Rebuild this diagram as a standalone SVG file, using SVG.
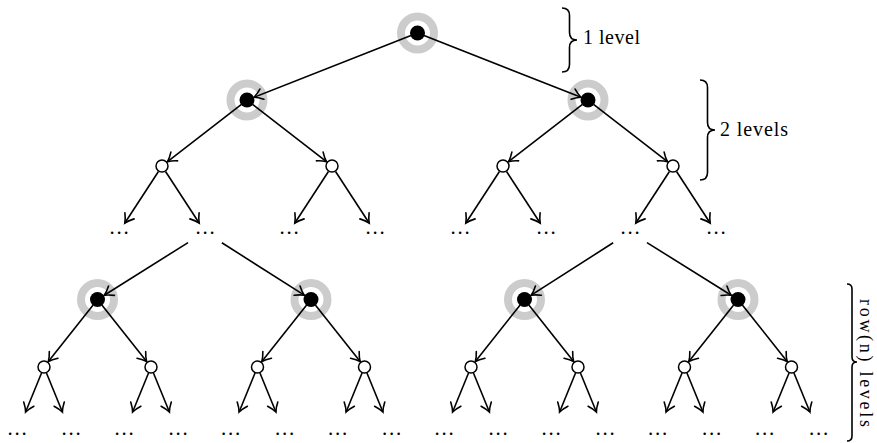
<svg xmlns="http://www.w3.org/2000/svg" width="877" height="443" viewBox="0 0 877 443">
<style>
.ring{fill:none;stroke:#cccccc;stroke-width:8}
.blk{fill:#000}
.wht{fill:#fff;stroke:#000;stroke-width:1.5}
.edge{stroke:#000;stroke-width:1.6;fill:none;marker-end:url(#arr)}
.dots{font-family:"Liberation Serif",serif;font-size:21px;text-anchor:middle;letter-spacing:1.8px;fill:#000}
.lbl{font-family:"Liberation Serif",serif;font-size:20px;fill:#000}
.brace{fill:none;stroke:#000;stroke-width:1.6}
</style>
<defs>
<marker id="arr" viewBox="-12 -12 24 24" markerWidth="24" markerHeight="24" refX="0" refY="0" orient="auto" markerUnits="userSpaceOnUse">
<path d="M-8.5,-5.5 C-5.5,-3 -2.2,-0.9 0,0 C-2.2,0.9 -5.5,3 -8.5,5.5" fill="none" stroke="#000" stroke-width="1.6" stroke-linecap="round"/>
</marker>
</defs>
<g id="rings">
<circle class="ring" cx="417.5" cy="33" r="16.5"/>
<circle class="ring" cx="247" cy="100" r="16.5"/>
<circle class="ring" cx="588" cy="100" r="16.5"/>
<circle class="ring" cx="97.5" cy="299.5" r="16.5"/>
<circle class="ring" cx="311" cy="299.5" r="16.5"/>
<circle class="ring" cx="524.5" cy="299.5" r="16.5"/>
<circle class="ring" cx="738" cy="299.5" r="16.5"/>
</g>
<g id="connectors">
<path class="edge" d="M410.98,35.56 L253.98,97.26"/>
<path class="edge" d="M424.02,35.56 L581.02,97.26"/>
<path class="edge" d="M241.47,104.29 L167.53,161.71"/>
<path class="edge" d="M252.53,104.29 L326.47,161.71"/>
<path class="edge" d="M582.47,104.29 L508.53,161.71"/>
<path class="edge" d="M593.53,104.29 L667.47,161.71"/>
<path class="edge" d="M158.45,171.45 L124.86,223"/>
<path class="edge" d="M165.55,171.45 L199.14,223"/>
<path class="edge" d="M328.45,171.45 L294.86,223"/>
<path class="edge" d="M335.55,171.45 L369.14,223"/>
<path class="edge" d="M499.45,171.45 L465.86,223"/>
<path class="edge" d="M506.55,171.45 L540.14,223"/>
<path class="edge" d="M669.45,171.45 L635.86,223"/>
<path class="edge" d="M676.55,171.45 L710.14,223"/>
<path class="edge" d="M188.04,242.6 L104.28,295.26"/>
<path class="edge" d="M221.87,242.74 L304.25,295.2"/>
<path class="edge" d="M613.15,242.78 L531.24,295.19"/>
<path class="edge" d="M646.96,242.6 L731.22,295.26"/>
<path class="edge" d="M93.15,305 L48.35,361.51"/>
<path class="edge" d="M101.85,305 L146.65,361.51"/>
<path class="edge" d="M306.65,305 L261.85,361.51"/>
<path class="edge" d="M315.35,305 L360.15,361.51"/>
<path class="edge" d="M520.15,305 L475.35,361.51"/>
<path class="edge" d="M528.85,305 L573.65,361.51"/>
<path class="edge" d="M733.65,305 L688.85,361.51"/>
<path class="edge" d="M742.35,305 L787.15,361.51"/>
<path class="edge" d="M41.54,373.02 L25.59,412"/>
<path class="edge" d="M46.46,373.02 L62.41,412"/>
<path class="edge" d="M148.54,373.02 L132.59,412"/>
<path class="edge" d="M153.46,373.02 L169.41,412"/>
<path class="edge" d="M255.04,373.02 L239.09,412"/>
<path class="edge" d="M259.96,373.02 L275.91,412"/>
<path class="edge" d="M362.04,373.02 L346.09,412"/>
<path class="edge" d="M366.96,373.02 L382.91,412"/>
<path class="edge" d="M468.54,373.02 L452.59,412"/>
<path class="edge" d="M473.46,373.02 L489.41,412"/>
<path class="edge" d="M575.54,373.02 L559.59,412"/>
<path class="edge" d="M580.46,373.02 L596.41,412"/>
<path class="edge" d="M682.04,373.02 L666.09,412"/>
<path class="edge" d="M686.96,373.02 L702.91,412"/>
<path class="edge" d="M789.04,373.02 L773.09,412"/>
<path class="edge" d="M793.96,373.02 L809.91,412"/>
</g>
<g id="n0"><circle class="blk" cx="417.5" cy="33" r="7.5"/></g>
<g id="n1a"><circle class="blk" cx="247" cy="100" r="7.5"/></g>
<g id="n1b"><circle class="blk" cx="588" cy="100" r="7.5"/></g>
<g id="n2a"><circle class="wht" cx="162" cy="166" r="6"/></g>
<g id="n2b"><circle class="wht" cx="332" cy="166" r="6"/></g>
<g id="n2c"><circle class="wht" cx="503" cy="166" r="6"/></g>
<g id="n2d"><circle class="wht" cx="673" cy="166" r="6"/></g>
<g id="d3">
<text class="dots" x="120" y="234">...</text>
<text class="dots" x="206" y="234">...</text>
<text class="dots" x="290" y="234">...</text>
<text class="dots" x="376" y="234">...</text>
<text class="dots" x="461" y="234">...</text>
<text class="dots" x="547" y="234">...</text>
<text class="dots" x="631" y="234">...</text>
<text class="dots" x="717" y="234">...</text>
</g>
<g id="n4a"><circle class="blk" cx="97.5" cy="299.5" r="7.5"/></g>
<g id="n4b"><circle class="blk" cx="311" cy="299.5" r="7.5"/></g>
<g id="n4c"><circle class="blk" cx="524.5" cy="299.5" r="7.5"/></g>
<g id="n4d"><circle class="blk" cx="738" cy="299.5" r="7.5"/></g>
<g id="n5a"><circle class="wht" cx="44" cy="367" r="6"/></g>
<g id="n5b"><circle class="wht" cx="151" cy="367" r="6"/></g>
<g id="n5c"><circle class="wht" cx="257.5" cy="367" r="6"/></g>
<g id="n5d"><circle class="wht" cx="364.5" cy="367" r="6"/></g>
<g id="n5e"><circle class="wht" cx="471" cy="367" r="6"/></g>
<g id="n5f"><circle class="wht" cx="578" cy="367" r="6"/></g>
<g id="n5g"><circle class="wht" cx="684.5" cy="367" r="6"/></g>
<g id="n5h"><circle class="wht" cx="791.5" cy="367" r="6"/></g>
<g id="d6">
<text class="dots" x="18" y="435">...</text>
<text class="dots" x="72" y="435">...</text>
<text class="dots" x="125" y="435">...</text>
<text class="dots" x="179" y="435">...</text>
<text class="dots" x="231.5" y="435">...</text>
<text class="dots" x="285.5" y="435">...</text>
<text class="dots" x="338.5" y="435">...</text>
<text class="dots" x="392.5" y="435">...</text>
<text class="dots" x="445" y="435">...</text>
<text class="dots" x="499" y="435">...</text>
<text class="dots" x="552" y="435">...</text>
<text class="dots" x="606" y="435">...</text>
<text class="dots" x="658.5" y="435">...</text>
<text class="dots" x="712.5" y="435">...</text>
<text class="dots" x="765.5" y="435">...</text>
<text class="dots" x="819.5" y="435">...</text>
</g>
<g id="brace1">
<path class="brace" d="M562,8 Q569.5,8 569.5,15.5 L569.5,32.5 Q569.5,40 577,40 Q569.5,40 569.5,47.5 L569.5,64.5 Q569.5,72 562,72"/>
<text class="lbl" x="583" y="44" textLength="57" lengthAdjust="spacing">1 level</text>
</g>
<g id="brace2">
<path class="brace" d="M700,80 Q707.5,80 707.5,87.5 L707.5,122.5 Q707.5,130 715,130 Q707.5,130 707.5,137.5 L707.5,172.5 Q707.5,180 700,180"/>
<text class="lbl" x="720" y="136" textLength="68" lengthAdjust="spacing">2 levels</text>
</g>
<g id="brace3">
<path class="brace" d="M847,284 Q852,284 852,289 L852,357 Q852,362 857,362 Q852,362 852,367 L852,436 Q852,441 847,441"/>
<text class="lbl" style="font-size:18px" transform="translate(860,299) rotate(90)" textLength="128" lengthAdjust="spacing">row(n) levels</text>
</g>
</svg>
